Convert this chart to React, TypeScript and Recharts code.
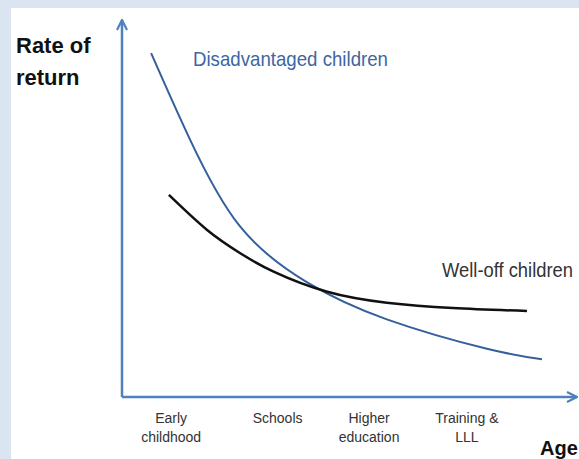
import React from "react";
import { Line, LineChart, XAxis, YAxis } from "recharts";

// x = position along the age axis (0-100), y = rate of return (0-100)
const disadvantaged = [
  { x: 6.4, y: 91.2 },
  { x: 14.9, y: 68.4 },
  { x: 25.9, y: 45.3 },
  { x: 40.7, y: 30.4 },
  { x: 58.2, y: 20.6 },
  { x: 80.2, y: 12.8 },
  { x: 92.3, y: 10.0 },
];

const wellOff = [
  { x: 10.3, y: 53.6 },
  { x: 18.7, y: 44.3 },
  { x: 25.9, y: 38.2 },
  { x: 33.2, y: 33.3 },
  { x: 45.1, y: 27.9 },
  { x: 58.2, y: 25.0 },
  { x: 72.7, y: 23.6 },
  { x: 89.0, y: 22.8 },
];

const stageTicks = [10.8, 34.2, 54.3, 75.8];
const stageLabels = [["Early", "childhood"], ["Schools"], ["Higher", "education"], ["Training &", "LLL"]];

const AXIS = "#4f81bd";
const FONT = "'Liberation Sans', Arial, sans-serif";

function StageTick(props: any) {
  const { x, y, payload } = props;
  const i = stageTicks.indexOf(payload.value);
  const lines = stageLabels[i] ?? [];
  return (
    <g>
      {lines.map((t, k) => (
        <text key={k} x={x} y={y + 18 + k * 19} textAnchor="middle" fontSize={14} fill="#333" fontFamily={FONT}>
          {t}
        </text>
      ))}
    </g>
  );
}

export default function App() {
  return (
    <div style={{ position: "absolute", left: 0, top: 0, width: 579, height: 459, background: "#dbe5f1", overflow: "hidden" }}>
      <div style={{ position: "absolute", left: 11, top: 8, right: 0, bottom: 0, background: "#fff" }} />
      <svg width={0} height={0} style={{ position: "absolute" }}>
        <defs>
          <marker id="arrow" viewBox="0 0 12 12" refX="11" refY="6" markerWidth="12" markerHeight="12" markerUnits="userSpaceOnUse" orient="auto-start-reverse">
            <polyline points="1,1 11,6 1,11" fill="none" stroke={AXIS} strokeWidth={2.2} strokeLinejoin="miter" />
          </marker>
        </defs>
      </svg>
      <div style={{ position: "absolute", left: 0, top: 0 }}>
        <LineChart width={579} height={459} margin={{ top: 20, right: 2, bottom: 0, left: 112 }}>
          <XAxis
            type="number"
            dataKey="x"
            domain={[0, 100]}
            ticks={stageTicks}
            tick={<StageTick />}
            tickLine={false}
            height={62}
            axisLine={{ stroke: AXIS, strokeWidth: 2.5, markerEnd: "url(#arrow)" }}
            allowDataOverflow
          />
          <YAxis
            type="number"
            dataKey="y"
            domain={[0, 100]}
            tick={false}
            tickLine={false}
            width={10}
            axisLine={{ stroke: AXIS, strokeWidth: 2.5, markerStart: "url(#arrow)" }}
          />
          <Line
            data={disadvantaged}
            dataKey="y"
            name="Disadvantaged children"
            type="natural"
            stroke="#34609c"
            strokeWidth={2}
            dot={false}
            isAnimationActive={false}
          />
          <Line
            data={wellOff}
            dataKey="y"
            name="Well-off children"
            type="natural"
            stroke="#111"
            strokeWidth={2.5}
            dot={false}
            isAnimationActive={false}
          />
        </LineChart>
      </div>
      <svg width={579} height={459} style={{ position: "absolute", left: 0, top: 0, pointerEvents: "none" }} fontFamily={FONT}>
        <text x={16} y={53} fontSize={22} fontWeight="bold" fill="#111">Rate of</text>
        <text x={16} y={85} fontSize={22} fontWeight="bold" fill="#111">return</text>
        <text x={193} y={66} fontSize={21} fill="#3d66a3" textLength={195} lengthAdjust="spacingAndGlyphs">Disadvantaged children</text>
        <text x={442} y={277} fontSize={19.5} fill="#333" textLength={131} lengthAdjust="spacingAndGlyphs">Well-off children</text>
        <text x={540} y={455} fontSize={20} fontWeight="bold" fill="#111">Age</text>
      </svg>
    </div>
  );
}
